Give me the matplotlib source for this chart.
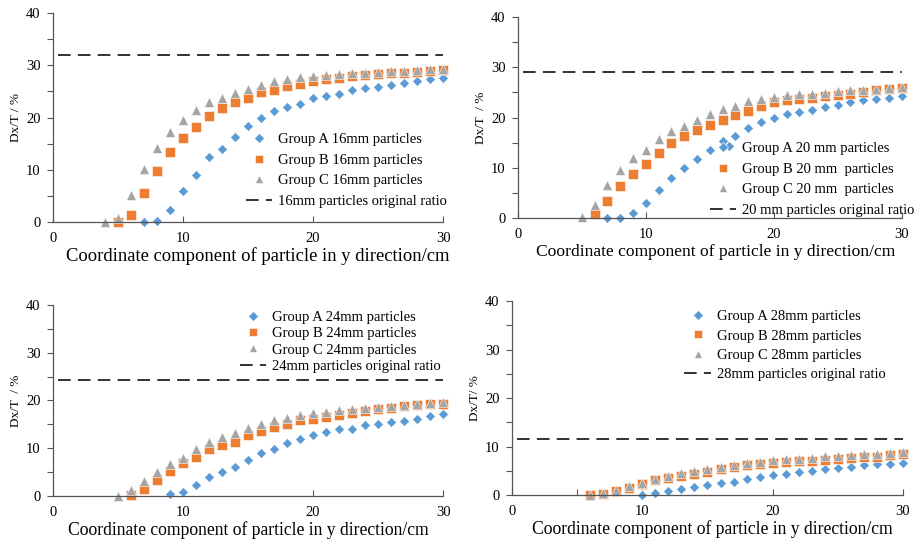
import matplotlib.pyplot as plt
from matplotlib.ticker import MultipleLocator, FixedLocator

plt.rcParams['font.family'] = ['Liberation Serif', 'DejaVu Serif']

# ---- data ----
# 16 mm
x16_a = list(range(7, 31))
y16_a = [0.1, 0.3, 2.4, 5.9, 9.1, 12.4, 14.0, 16.3, 18.3, 20.0, 21.2, 22.0, 22.6, 23.7,
         24.2, 24.6, 25.2, 25.6, 25.9, 26.3, 26.7, 27.0, 27.3, 27.5]
x16_b = list(range(5, 31))
y16_b = [0.0, 1.4, 5.5, 9.8, 13.5, 16.1, 18.2, 20.3, 21.8, 23.0, 23.7, 24.9, 25.3, 26.0,
         26.5, 26.9, 27.3, 27.6, 27.9, 28.1, 28.3, 28.5, 28.6, 28.8, 28.9, 29.1]
x16_c = list(range(4, 31))
y16_c = [0.0, 0.7, 5.2, 10.2, 14.2, 17.3, 19.5, 21.5, 22.9, 23.8, 24.7, 25.5, 26.2, 26.9,
         27.4, 27.8, 28.0, 28.2, 28.4, 28.5, 28.6, 28.8, 28.9, 29.0, 29.1, 29.2, 29.3]
ratio16 = 32.0

# 20 mm
x20_a = [7, 8, 9, 10, 11, 12, 13, 14, 15, 16, 16.5, 17, 18, 19, 20, 21, 22, 23, 24, 25,
         26, 27, 28, 29, 30]
y20_a = [0.0, 0.05, 0.9, 2.9, 5.6, 8.0, 10.0, 11.7, 13.6, 15.3, 14.3, 16.4, 17.9, 19.1,
         19.9, 20.7, 21.2, 21.5, 22.2, 22.6, 23.0, 23.4, 23.6, 23.9, 24.3]
x20_b = list(range(6, 31))
y20_b = [0.7, 3.4, 6.4, 8.7, 10.7, 12.9, 14.9, 16.4, 17.5, 18.6, 19.5, 20.5, 21.3, 22.3,
         23.0, 23.4, 23.6, 23.9, 24.2, 24.5, 24.7, 25.1, 25.4, 25.7, 25.9]
x20_c = list(range(5, 31))
y20_c = [0.3, 2.5, 6.5, 9.6, 12.0, 13.6, 15.7, 17.3, 18.4, 19.6, 20.8, 21.8, 22.4, 23.2,
         23.7, 24.1, 24.4, 24.6, 24.7, 24.9, 25.2, 25.4, 25.5, 25.7, 25.9, 26.1]
ratio20 = 29.1

# 24 mm
x24_a = list(range(9, 31))
y24_a = [0.35, 0.9, 2.3, 4.0, 5.0, 6.1, 7.5, 8.9, 9.8, 11.0, 11.9, 12.7, 13.4, 14.0,
         14.1, 14.9, 15.1, 15.4, 15.7, 16.2, 16.7, 17.1]
x24_b = list(range(6, 31))
y24_b = [0.2, 1.5, 3.4, 5.3, 6.8, 8.2, 9.8, 10.6, 11.4, 12.8, 13.7, 14.5, 15.1, 15.8,
         16.2, 16.6, 16.9, 17.4, 17.8, 18.2, 18.4, 18.8, 19.1, 19.2, 19.3]
x24_c = list(range(5, 31))
y24_c = [0.05, 1.2, 3.1, 5.1, 6.6, 8.0, 9.8, 11.3, 12.3, 13.2, 14.2, 15.0, 15.8, 16.4,
         16.9, 17.3, 17.6, 17.9, 18.1, 18.4, 18.6, 18.8, 19.1, 19.3, 19.5, 19.6]
ratio24 = 24.2

# 28 mm
x28_a = list(range(10, 31))
y28_a = [0.1, 0.5, 0.8, 1.2, 1.6, 2.1, 2.4, 2.7, 3.2, 3.7, 4.2, 4.4, 4.7, 4.9, 5.3,
         5.6, 5.8, 6.1, 6.3, 6.4, 6.6]
x28_b = list(range(6, 31))
y28_b = [0.1, 0.3, 0.9, 1.5, 2.3, 3.0, 3.6, 4.0, 4.3, 4.8, 5.4, 5.7, 6.1, 6.3, 6.5,
         6.8, 7.1, 7.1, 7.3, 7.5, 7.6, 7.8, 7.9, 8.2, 8.4]
x28_c = list(range(6, 31))
y28_c = [0.0, 0.5, 1.1, 1.9, 2.5, 3.3, 4.0, 4.5, 4.9, 5.4, 5.8, 6.1, 6.5, 6.9, 7.2,
         7.4, 7.5, 7.7, 8.0, 8.1, 8.2, 8.4, 8.5, 8.6, 8.8]
ratio28 = 11.5

labels16 = ["Group A 16mm particles", "Group B 16mm particles",
            "Group C 16mm particles", "16mm particles original ratio"]
labels20 = ["Group A 20 mm particles", "Group B 20 mm  particles",
            "Group C 20 mm  particles", "20 mm particles original ratio"]
labels24 = ["Group A 24mm particles", "Group B 24mm particles",
            "Group C 24mm particles", "24mm particles original ratio"]
labels28 = ["Group A 28mm particles", "Group B 28mm particles",
            "Group C 28mm particles", "28mm particles original ratio"]

ylabels = ["Dx/T / %", "Dx/T  / %", "Dx/T  / %", "Dx/T/ %"]
xlabel = "Coordinate component of particle in y direction/cm"

blue = '#5b9bd5'
orange = '#ed7d31'
gray = '#a5a5a5'

panels = [
    # axes rect, legend anchor (figure coords), legend row spacing, xlabel x / size, data
    ([0.0576, 0.591, 0.424, 0.385], (0.267, 0.755), 0.50, (0.524, 13.4),
     (x16_a, y16_a, x16_b, y16_b, x16_c, y16_c, ratio16, labels16)),
    ([0.563, 0.5985, 0.417, 0.370], (0.772, 0.738), 0.50, (0.516, 12.6),
     (x20_a, y20_a, x20_b, y20_b, x20_c, y20_c, ratio20, labels20)),
    ([0.0576, 0.0866, 0.424, 0.352], (0.261, 0.427), 0.20, (0.500, 12.7),
     (x24_a, y24_a, x24_b, y24_b, x24_c, y24_c, ratio24, labels24)),
    ([0.5565, 0.0884, 0.425, 0.357], (0.744, 0.429), 0.42, (0.512, 12.7),
     (x28_a, y28_a, x28_b, y28_b, x28_c, y28_c, ratio28, labels28)),
]

fig = plt.figure(figsize=(9.2, 5.43), dpi=100)

for i, (rect, anchor, spacing, (lx, lsize), d) in enumerate(panels):
    xa, ya, xb, yb, xc, yc, ratio, labels = d
    ax = fig.add_axes(rect)
    ax.plot(xa, ya, 'D', color=blue, ms=5, mec='white', mew=0.4, label=labels[0], clip_on=False)
    ax.plot(xb, yb, 's', color=orange, ms=6.5, mec='white', mew=0.4, label=labels[1], clip_on=False)
    ax.plot(xc, yc, '^', color=gray, ms=6.5, mec='white', mew=0.4, label=labels[2], clip_on=False)
    ax.plot([0.4, 30], [ratio, ratio], color='#222222', lw=1.3, dashes=(7, 4), label=labels[3])
    ax.set_xlim(0, 30)
    ax.set_ylim(0, 40)
    ax.xaxis.set_major_locator(MultipleLocator(10))
    ax.yaxis.set_major_locator(MultipleLocator(10))
    ax.yaxis.set_minor_locator(MultipleLocator(5))
    if i == 3:
        # the last panel shows one stray tick at x = 5
        ax.xaxis.set_minor_locator(FixedLocator([5]))
    ax.spines['top'].set_visible(False)
    ax.spines['right'].set_visible(False)
    for s in ('left', 'bottom'):
        ax.spines[s].set_color('#555555')
        ax.spines[s].set_linewidth(0.9)
    ax.tick_params(axis='y', which='both', direction='out', length=4, width=0.8,
                   color='#555555', labelsize=10.5, pad=5)
    ax.tick_params(axis='x', which='both', direction='in', length=4, width=0.8,
                   color='#555555', labelsize=10.5, pad=7)
    ax.set_xlabel(xlabel, fontsize=lsize, labelpad=2)
    ax.xaxis.label.set_x(lx)
    ax.set_ylabel(ylabels[i], fontsize=9.5, labelpad=3)
    leg = ax.legend(loc='upper left', bbox_to_anchor=anchor, bbox_transform=fig.transFigure,
                    frameon=False, fontsize=10.5, numpoints=1, handlelength=1.8,
                    handletextpad=0.4, labelspacing=spacing, borderaxespad=0, borderpad=0)
    for lh in leg.legend_handles[:3]:
        lh.set_markersize(5.5)

fig.savefig('out.png', dpi=100)
